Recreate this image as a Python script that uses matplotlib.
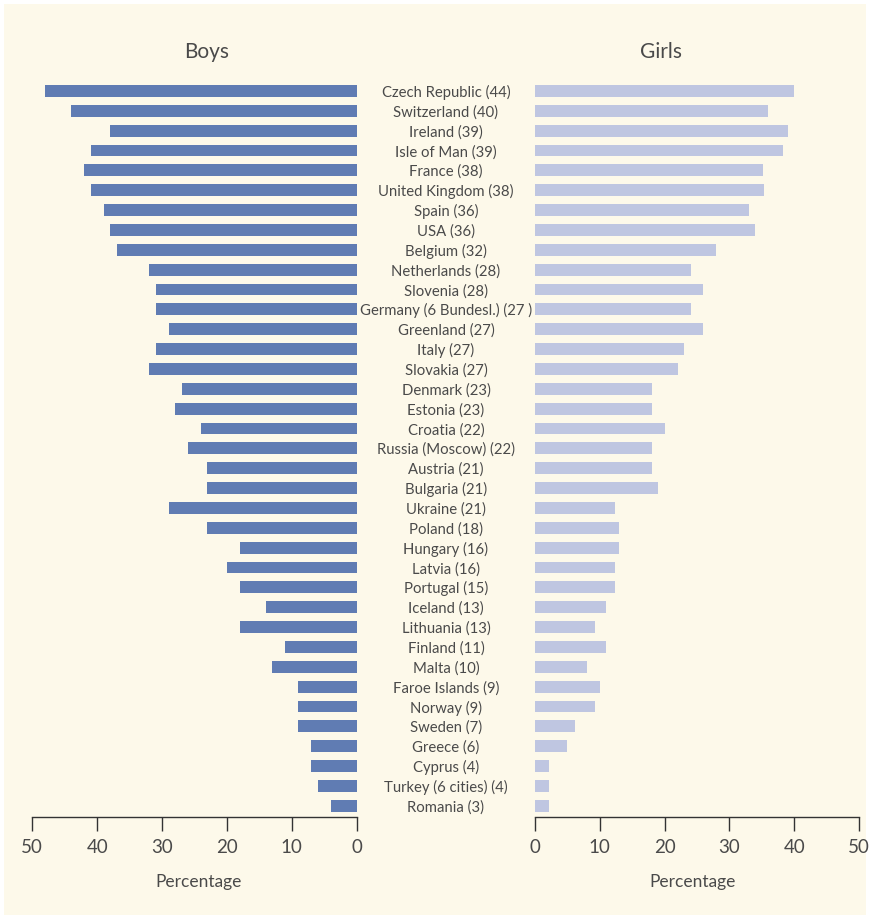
import matplotlib.pyplot as plt
import matplotlib.transforms as mtransforms
from matplotlib.patches import Rectangle

# Data
countries = ["Czech Republic (44)", "Switzerland (40)", "Ireland (39)", "Isle of Man (39)",
             "France (38)", "United Kingdom (38)", "Spain (36)", "USA (36)", "Belgium (32)",
             "Netherlands (28)", "Slovenia (28)", "Germany (6 Bundesl.) (27 )", "Greenland (27)",
             "Italy (27)", "Slovakia (27)", "Denmark (23)", "Estonia (23)", "Croatia (22)",
             "Russia (Moscow) (22)", "Austria (21)", "Bulgaria (21)", "Ukraine (21)",
             "Poland (18)", "Hungary (16)", "Latvia (16)", "Portugal (15)", "Iceland (13)",
             "Lithuania (13)", "Finland (11)", "Malta (10)", "Faroe Islands (9)", "Norway (9)",
             "Sweden (7)", "Greece (6)", "Cyprus (4)", "Turkey (6 cities) (4)", "Romania (3)"]
boys = [48, 44, 38, 41, 42, 41, 39, 38, 37, 32, 31, 31, 29, 31, 32, 27, 28, 24, 26, 23, 23,
        29, 23, 18, 20, 18, 14, 18, 11, 13, 9, 9, 9, 7, 7, 6, 4]
girls = [40, 36, 39, 38.3, 35.2, 35.3, 33, 34, 28, 24, 26, 24, 26, 23, 22, 18, 18, 20, 18, 18,
         19, 12.3, 13, 13, 12.3, 12.3, 11, 9.3, 11, 8, 10, 9.3, 6.2, 5, 2.2, 2.2, 2.2]
ticks = [0, 10, 20, 30, 40, 50]

bg = "#FDF9EA"
boys_color = "#607CB3"
girls_color = "#BFC6E1"
text_color = "#4a4a4a"
font = ["Lato", "DejaVu Sans"]

W, H = 870, 919
fig = plt.figure(figsize=(W / 100, H / 100), dpi=100, facecolor="white")
fig.patches.append(Rectangle((4 / W, 4 / H), 862 / W, 911 / H, transform=fig.transFigure,
                             facecolor=bg, edgecolor="none", zorder=-10))

bottom = (H - 816.7) / H
height = (816.7 - 81) / H
ax_l = fig.add_axes([32.3 / W, bottom, 324.4 / W, height])
ax_r = fig.add_axes([535 / W, bottom, 324 / W, height])

y = list(range(len(countries)))
ax_l.barh(y, boys, height=0.6, color=boys_color)
ax_r.barh(y, girls, height=0.6, color=girls_color)

for ax in [ax_l, ax_r]:
    ax.set_facecolor("none")
    ax.set_xlim(0, 50)
    ax.set_ylim(36.55, -0.5)
    ax.set_yticks([])
    for s in ["top", "left", "right"]:
        ax.spines[s].set_visible(False)
    ax.spines["bottom"].set_color("#333333")
    ax.spines["bottom"].set_linewidth(1.0)
    ax.set_xticks(ticks)
    ax.set_xticklabels([str(t) for t in ticks], fontsize=13.5, color=text_color, family=font)
    ax.tick_params(axis="x", direction="out", length=10, width=1.0, color="#333333", pad=6)
    ax.set_xlabel("Percentage", fontsize=12.5, color=text_color, family=font)
    ax.xaxis.set_label_coords(0.487, -0.078)

ax_l.invert_xaxis()
ax_l.xaxis.set_label_coords(1 - 0.487, -0.078)

fig.text(207 / W, 1 - 52 / H, "Boys", ha="center", va="center", fontsize=15,
         color=text_color, family=font)
fig.text(661 / W, 1 - 52 / H, "Girls", ha="center", va="center", fontsize=15,
         color=text_color, family=font)

trans = mtransforms.blended_transform_factory(fig.transFigure, ax_l.transData)
for i, name in enumerate(countries):
    ax_l.text(446 / W, i + 0.08, name, transform=trans, ha="center", va="center",
              fontsize=10.7, color=text_color, family=font, clip_on=False)

fig.savefig("out.png", dpi=100, facecolor=fig.get_facecolor())
